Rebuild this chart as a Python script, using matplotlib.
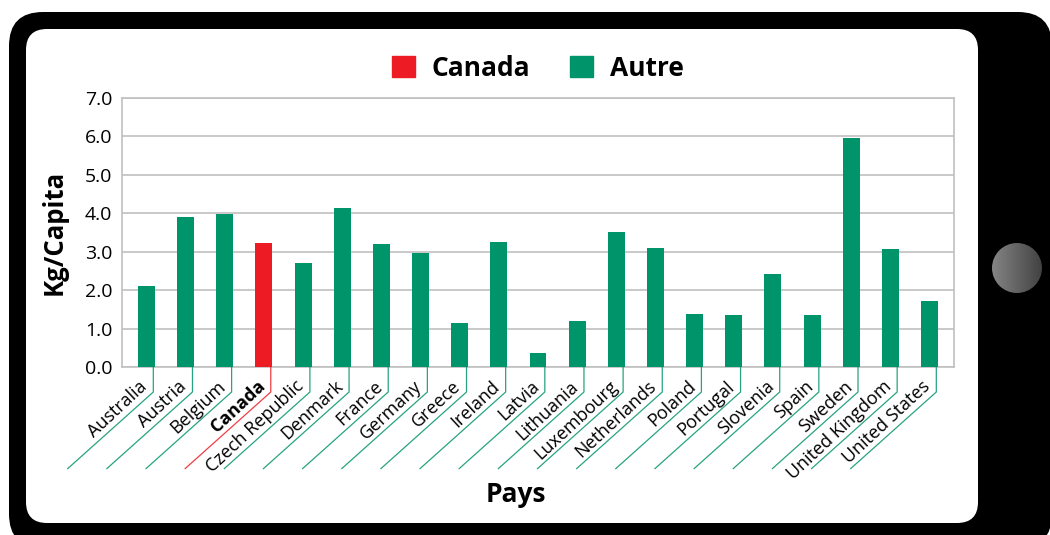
import numpy as np
import matplotlib
matplotlib.use('Agg')
import matplotlib.pyplot as plt
import matplotlib.transforms as mtransforms
from matplotlib.patches import FancyBboxPatch, Circle, Patch
from matplotlib.lines import Line2D

# Données
pays = ['Australia', 'Austria', 'Belgium', 'Canada', 'Czech Republic', 'Denmark',
        'France', 'Germany', 'Greece', 'Ireland', 'Latvia', 'Lithuania',
        'Luxembourg', 'Netherlands', 'Poland', 'Portugal', 'Slovenia', 'Spain',
        'Sweden', 'United Kingdom', 'United States']
kg_capita = [2.10, 3.90, 3.98, 3.23, 2.70, 4.14, 3.20, 2.97, 1.14, 3.25, 0.36,
             1.19, 3.51, 3.10, 1.37, 1.35, 2.42, 1.35, 5.97, 3.07, 1.71]
pays_mis_en_valeur = 'Canada'
legende = ['Canada', 'Autre']
y_ticks = [0, 1, 2, 3, 4, 5, 6, 7]

ROUGE = '#ED1C24'
VERT = '#00946B'
GRIS = '#C0C0C0'

plt.rcParams['font.family'] = ['Open Sans', 'DejaVu Sans']

fig = plt.figure(figsize=(10.5, 5.35), dpi=100)

# Cadre du téléphone (coordonnées en pixels)
bg = fig.add_axes([0, 0, 1, 1], zorder=-5)
bg.set_xlim(0, 1050)
bg.set_ylim(535, 0)
bg.axis('off')

r = 34
bg.add_patch(FancyBboxPatch((9 + r, 12 + r), 1052 - 9 - 2 * r, 548 - 12 - 2 * r,
                            boxstyle='round,pad=%d' % r, fc='black', ec='none'))
r = 21
bg.add_patch(FancyBboxPatch((26 + r, 29 + r), 978 - 26 - 2 * r, 523 - 29 - 2 * r,
                            boxstyle='round,pad=%d' % r, fc='white', ec='none'))
bouton = Circle((1017, 268), 25, transform=bg.transData)
grad = np.linspace(0.52, 0.26, 100).reshape(1, -1)
im = bg.imshow(grad, cmap='gray', vmin=0, vmax=1, extent=[992, 1042, 293, 243],
               aspect='auto', zorder=5)
im.set_clip_path(bouton)

# Graphique
ax = fig.add_axes([122 / 1050, (535 - 367) / 535, (954 - 122) / 1050, (367 - 98) / 535])
x = np.arange(len(pays))
couleurs = [ROUGE if p == pays_mis_en_valeur else VERT for p in pays]
ax.bar(x, kg_capita, width=0.434, color=couleurs, zorder=3)

ax.set_xlim(-0.626, len(pays) - 1 + 0.626)
ax.set_ylim(0, 7)
ax.set_yticks(y_ticks)
ax.set_yticklabels(['%.1f' % v for v in y_ticks], fontsize=14)
ax.set_xticks([])
ax.tick_params(axis='y', length=0, pad=7)
ax.yaxis.grid(True, color=GRIS, lw=1.2)
ax.set_axisbelow(True)
for s in ax.spines.values():
    s.set_color(GRIS)
    s.set_linewidth(1.2)

ax.set_ylabel('Kg/Capita', fontsize=18.5, fontweight='bold', labelpad=12)

# Étiquettes inclinées avec traits de rappel
for i, p in enumerate(pays):
    c = couleurs[i]
    t = fig.dpi_scale_trans + mtransforms.ScaledTranslation(i + 0.174, 0, ax.transData)
    fig.add_artist(Line2D([0, 0, -0.856], [0, -0.25, -1.016], transform=t,
                          color=c, lw=0.9, alpha=0.85, clip_on=False))
    fig.text(-0.05, -0.205, p, transform=t, rotation=43, rotation_mode='anchor',
             ha='right', va='baseline', fontsize=13,
             fontweight='bold' if p == pays_mis_en_valeur else 'normal')

fig.text(516 / 1050, 1 - 494 / 535, 'Pays', fontsize=19, fontweight='bold',
         ha='center', va='center')

poignees = [Patch(color=ROUGE), Patch(color=VERT)]
fig.legend(poignees, legende, loc='center', bbox_to_anchor=(538 / 1050, 1 - 68 / 535),
           ncol=2, frameon=False, prop={'size': 19, 'weight': 'bold'},
           handlelength=0.85, handleheight=0.85, handletextpad=0.65, columnspacing=1.5)

fig.savefig('out.png', dpi=100)
